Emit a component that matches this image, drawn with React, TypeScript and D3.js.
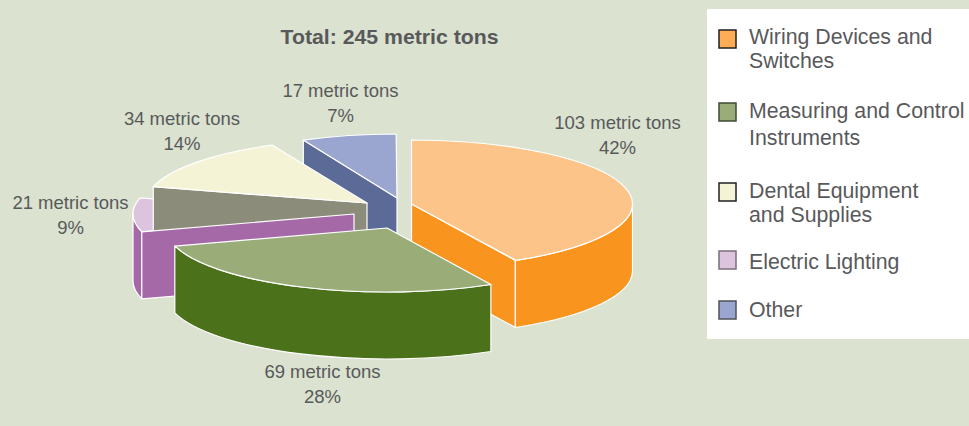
import React from "react";
import * as d3 from "d3";

const categories = ["Wiring Devices and Switches", "Measuring and Control Instruments", "Dental Equipment and Supplies", "Electric Lighting", "Other"];
const tons = [103, 69, 21, 34, 17];
const percents = ["42%", "28%", "9%", "14%", "7%"];
const topColors = ["#fdc48a", "#9aad78", "#dcc3de", "#f4f3d5", "#9aa5d0"];
const sideColors = ["#f9941f", "#4c711b", "#a569a8", "#8b8c7a", "#5b6a96"];
const swatchColors = ["#ffad55", "#9aad78", "#f4f3d5", "#dcc3de", "#9aa5d0"];
const swatchStrokes = ["#231f20", "#3f4a35", "#231f20", "#77707a", "#50525a"];
const legendLines = [["Wiring Devices and", "Switches"], ["Measuring and Control", "Instruments"], ["Dental Equipment", "and Supplies"], ["Electric Lighting"], ["Other"]];

const RX = 221, RY = 64, DEPTH = 67;
const apexes: [number, number][] = [[411.5, 204], [387, 228], [354, 214], [367, 203], [397, 198]];
const labelPos: [number, number][] = [[617.5, 129], [322.5, 378], [70.5, 209], [182, 125], [340.5, 97]];
const swatchY = [30, 103, 183, 251, 301];
const lineYs = [[44, 68], [118, 145], [198, 222], [269], [317]];

const arcs = d3.pie<number>().sort(null).value((d) => d)(tons);
const starts = arcs.map((a) => a.startAngle);
const ends = arcs.map((a) => a.endAngle);
const pt = (i: number, a: number): [number, number] => [
  apexes[i][0] + RX * Math.sin(a),
  apexes[i][1] - RY * Math.cos(a),
];
const gap = 0.004;
const topPath = (i: number) => {
  const [x0, y0] = pt(i, starts[i]);
  const [x1, y1] = pt(i, ends[i] - gap);
  const large = ends[i] - starts[i] > Math.PI ? 1 : 0;
  return `M${apexes[i][0]},${apexes[i][1]}L${x0},${y0}A${RX},${RY} 0 ${large} 1 ${x1},${y1}Z`;
};
const edgeFace = (i: number, a: number) => {
  const [x0, y0] = apexes[i];
  const [x1, y1] = pt(i, a);
  return `M${x0},${y0}L${x1},${y1}V${y1 + DEPTH}L${x0},${y0 + DEPTH}Z`;
};
const rimFace = (i: number, a0: number, a1: number) => {
  const [x0, y0] = pt(i, a0);
  const [x1, y1] = pt(i, a1);
  return `M${x0},${y0}A${RX},${RY} 0 0 1 ${x1},${y1}V${y1 + DEPTH}A${RX},${RY} 0 0 0 ${x0},${y0 + DEPTH}Z`;
};
const S = { stroke: "#fff", strokeWidth: 1.2, strokeLinejoin: "round" as const };
const HALF = Math.PI / 2, ONE_HALF = (3 * Math.PI) / 2;

export default function App() {
  const [ORANGE, GREEN, PURPLE, CREAM, BLUE] = [0, 1, 2, 3, 4];
  const font = "'Liberation Sans', Arial, sans-serif";
  return (
    <svg width={969} height={426} style={{ position: "absolute", left: 0, top: 0, fontFamily: font }}>
      <rect width={969} height={426} fill="#dbe2d0" />
      <text x={389.5} y={44} textAnchor="middle" fontSize={21} fontWeight="bold" fill="#58595b" textLength={218} lengthAdjust="spacingAndGlyphs">Total: 245 metric tons</text>

      <path d={topPath(PURPLE)} fill={topColors[PURPLE]} {...S} />
      <path d={rimFace(PURPLE, starts[PURPLE], ONE_HALF)} fill={sideColors[PURPLE]} {...S} />

      <path d={edgeFace(BLUE, starts[BLUE])} fill={sideColors[BLUE]} {...S} />
      <path d={topPath(BLUE)} fill={topColors[BLUE]} {...S} />

      <path d={edgeFace(CREAM, starts[CREAM])} fill={sideColors[CREAM]} {...S} />
      <path d={topPath(CREAM)} fill={topColors[CREAM]} {...S} />

      <path d={edgeFace(PURPLE, starts[PURPLE])} fill={sideColors[PURPLE]} {...S} />

      <path d={edgeFace(ORANGE, ends[ORANGE])} fill={sideColors[ORANGE]} {...S} />
      <path d={rimFace(ORANGE, HALF, ends[ORANGE])} fill={sideColors[ORANGE]} {...S} />
      <path d={topPath(ORANGE)} fill={topColors[ORANGE]} {...S} />

      <path d={rimFace(GREEN, starts[GREEN], ends[GREEN])} fill={sideColors[GREEN]} {...S} />
      <path d={topPath(GREEN)} fill={topColors[GREEN]} {...S} />

      {tons.map((t, i) => (
        <text key={i} textAnchor="middle" fontSize={18.5} fill="#58595b">
          <tspan x={labelPos[i][0]} y={labelPos[i][1]}>{t} metric tons</tspan>
          <tspan x={labelPos[i][0]} y={labelPos[i][1] + 25}>{percents[i]}</tspan>
        </text>
      ))}

      <rect x={707} y={9} width={262} height={330} fill="#fff" />
      {categories.map((c, i) => (
        <g key={c}>
          <rect x={719} y={swatchY[i]} width={17} height={18} fill={swatchColors[i]} stroke={swatchStrokes[i]} strokeWidth={1.5} />
          {legendLines[i].map((l, j) => (
            <text key={j} x={749} y={lineYs[i][j]} fontSize={21.3} fill="#58595b">{l}</text>
          ))}
        </g>
      ))}
    </svg>
  );
}
